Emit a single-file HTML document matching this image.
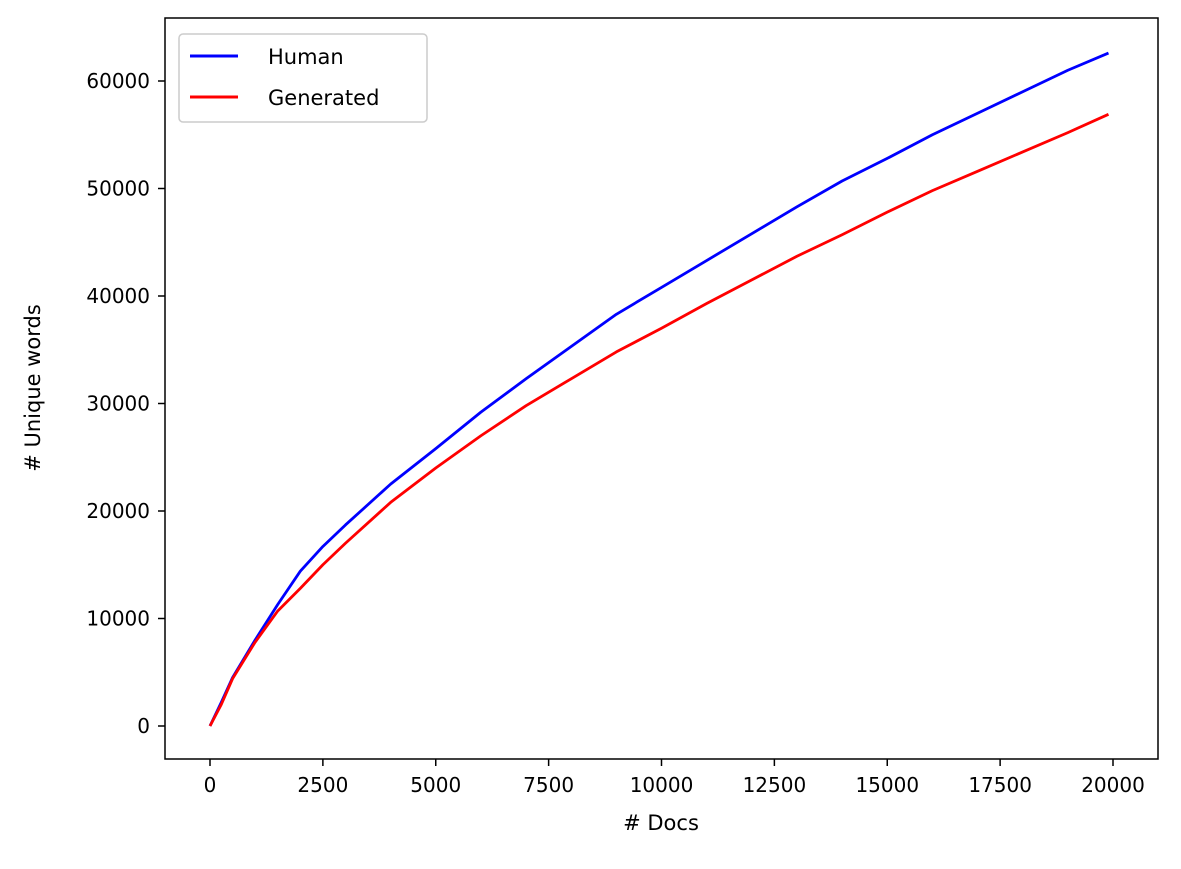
<!DOCTYPE html>
<html><head><meta charset="utf-8"><style>
body{margin:0;background:#fff}
svg text{font-family:"DejaVu Sans","Liberation Sans",sans-serif;fill:#000}
</style></head><body>
<svg id="chart" width="1181" height="864" xmlns="http://www.w3.org/2000/svg">
<rect x="0" y="0" width="1181" height="864" fill="#fff"/>
<g id="grid"></g>
<g id="lines"></g>
<rect x="165" y="18" width="993" height="741" fill="none" stroke="#000" stroke-width="1.5"/>
<text x="661" y="830" font-size="21" text-anchor="middle"># Docs</text>
<text transform="translate(40,388) rotate(-90)" font-size="21" text-anchor="middle"># Unique words</text>
<g>
<rect x="179" y="34" width="248" height="88" rx="4" fill="#fff" stroke="#ccc" stroke-width="1.5"/>
<line x1="190" y1="56" x2="238" y2="56" stroke="#0000ff" stroke-width="3"/>
<text x="268" y="64" font-size="21">Human</text>
<line x1="190" y1="97" x2="238" y2="97" stroke="#ff0000" stroke-width="3"/>
<text x="268" y="105" font-size="21">Generated</text>
</g>
</svg>
<script>
const docs = [0,250,500,1000,1500,2000,2500,3000,4000,5000,6000,7000,8000,9000,10000,11000,12000,13000,14000,15000,16000,17000,18000,19000,19900];
const humanWords = [0,2200,4500,8000,11300,14400,16700,18700,22500,25800,29200,32300,35300,38300,40800,43300,45800,48300,50700,52800,55000,57000,59000,61000,62600];
const generatedWords = [0,2000,4400,7800,10700,12800,15000,17000,20800,24000,27000,29800,32300,34800,37000,39300,41500,43700,45700,47800,49800,51600,53400,55200,56900];
const xTicks = [0,2500,5000,7500,10000,12500,15000,17500,20000];
const yTicks = [0,10000,20000,30000,40000,50000,60000];
const NS="http://www.w3.org/2000/svg";
function xs(v){return 210+v*(1113-210)/20000;}
function ys(v){return 726-v*(726-81)/60000;}
const grid=document.getElementById('grid');
xTicks.forEach(t=>{
  const l=document.createElementNS(NS,'line');
  l.setAttribute('x1',xs(t));l.setAttribute('x2',xs(t));l.setAttribute('y1',759);l.setAttribute('y2',766);
  l.setAttribute('stroke','#000');l.setAttribute('stroke-width',1.5);
  
  
  grid.appendChild(l);
  const tx=document.createElementNS(NS,'text');
  tx.setAttribute('x',xs(t));tx.setAttribute('y',792);tx.setAttribute('font-size',20);tx.setAttribute('text-anchor','middle');
  tx.textContent=t;
  
  
  grid.appendChild(tx);
});
yTicks.forEach(t=>{
  const l=document.createElementNS(NS,'line');
  l.setAttribute('x1',158);l.setAttribute('x2',165);l.setAttribute('y1',ys(t));l.setAttribute('y2',ys(t));
  l.setAttribute('stroke','#000');l.setAttribute('stroke-width',1.5);
  
  
  grid.appendChild(l);
  const tx=document.createElementNS(NS,'text');
  tx.setAttribute('x',150);tx.setAttribute('y',ys(t)+7);tx.setAttribute('font-size',20);tx.setAttribute('text-anchor','end');
  tx.textContent=t;
  
  
  grid.appendChild(tx);
});
const lines=document.getElementById('lines');
function drawLine(vals,color,name){
  const p=document.createElementNS(NS,'polyline');
  p.setAttribute('points',docs.map((d,i)=>xs(d)+','+ys(vals[i])).join(' '));
  p.setAttribute('fill','none');p.setAttribute('stroke',color);p.setAttribute('stroke-width',2.8);
  p.setAttribute('stroke-linejoin','round');
  
  
  lines.appendChild(p);
}
drawLine(humanWords,'#0000ff','human-line');
drawLine(generatedWords,'#ff0000','generated-line');
</script>
</body></html>
